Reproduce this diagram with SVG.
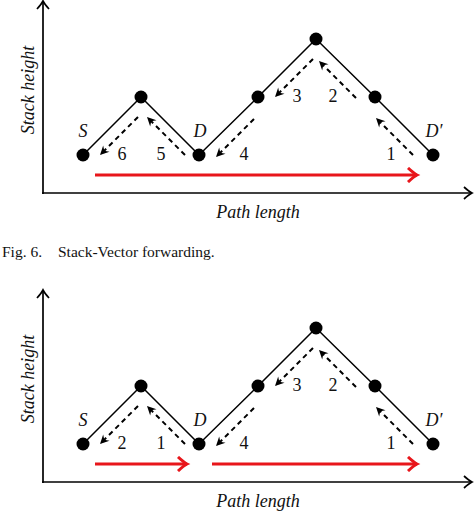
<svg xmlns="http://www.w3.org/2000/svg" width="474" height="513" viewBox="0 0 474 513">
<style>
.ax{stroke:#000;stroke-width:1.7;fill:none}
.seg{stroke:#000;stroke-width:1.5;fill:none}
.dash{stroke:#000;stroke-width:2;stroke-dasharray:5,4;fill:none}
.red{stroke:#e8161b;stroke-width:3;fill:none}
.dot{fill:#000}
.lbl{font-family:"Liberation Serif","Times New Roman",serif;font-style:italic;font-size:18px;fill:#111}
.num{font-family:"Liberation Serif","Times New Roman",serif;font-size:18px;fill:#111;text-anchor:middle}
.cap{font-family:"Liberation Serif","Times New Roman",serif;font-size:15.5px;fill:#111}
</style>
<defs>
<marker id="axarrow" markerUnits="userSpaceOnUse" markerWidth="14" markerHeight="14" viewBox="-10 -7 12 14" refX="0" refY="0" orient="auto">
<path d="M-8,-6 Q-3,-1.5 0,0 Q-3,1.5 -8,6" fill="none" stroke="#000" stroke-width="1.7"/>
</marker>
<marker id="redarrow" markerUnits="userSpaceOnUse" markerWidth="16" markerHeight="16" viewBox="-11 -8 13 16" refX="0" refY="0" orient="auto">
<path d="M-9,-7 Q-3,-1.5 0,0 Q-3,1.5 -9,7" fill="none" stroke="#e8161b" stroke-width="3"/>
</marker>
<marker id="dasharrow" markerUnits="userSpaceOnUse" markerWidth="12" markerHeight="12" viewBox="-10 -6 11 12" refX="0" refY="0" orient="auto">
<path d="M0,0 L-9,-4.5 L-6,0 L-9,4.5 Z" fill="#000"/>
</marker>
</defs>

<!-- ===== Top figure ===== -->
<g id="axes-top">
<line class="ax" x1="43" y1="194" x2="43" y2="1" marker-end="url(#axarrow)"/>
<line class="ax" x1="42" y1="193" x2="472" y2="193" marker-end="url(#axarrow)"/>
<text class="lbl" x="258" y="218" text-anchor="middle">Path length</text>
<text class="lbl" transform="translate(34,90) rotate(-90)" text-anchor="middle">Stack height</text>
</g>

<g id="connectors-top">
<polyline class="seg" points="83,155 141,97 199,155 258,97 316,39 375,97 433,155"/>
<line class="dash" x1="138" y1="117" x2="100" y2="155" marker-end="url(#dasharrow)"/>
<line class="dash" x1="185" y1="155" x2="147" y2="117" marker-end="url(#dasharrow)"/>
<line class="dash" x1="254" y1="119" x2="216" y2="157" marker-end="url(#dasharrow)"/>
<line class="dash" x1="313" y1="59" x2="275" y2="97" marker-end="url(#dasharrow)"/>
<line class="dash" x1="356" y1="98" x2="319" y2="61" marker-end="url(#dasharrow)"/>
<line class="dash" x1="413" y1="155" x2="376" y2="118" marker-end="url(#dasharrow)"/>
<line class="red" x1="95" y1="175" x2="417" y2="175" marker-end="url(#redarrow)"/>
<text class="num" x="122" y="160">6</text>
<text class="num" x="161" y="160">5</text>
<text class="num" x="244" y="160">4</text>
<text class="num" x="297" y="102">3</text>
<text class="num" x="333" y="102">2</text>
<text class="num" x="391" y="160">1</text>
</g>

<g id="t-S"><circle class="dot" cx="83" cy="155" r="6.5"/><text class="lbl" x="83" y="137" text-anchor="middle">S</text></g>
<g id="t-P1"><circle class="dot" cx="141" cy="97" r="6.5"/></g>
<g id="t-D"><circle class="dot" cx="199" cy="155" r="6.5"/><text class="lbl" x="200" y="137" text-anchor="middle">D</text></g>
<g id="t-N1"><circle class="dot" cx="258" cy="97" r="6.5"/></g>
<g id="t-T"><circle class="dot" cx="316" cy="39" r="6.5"/></g>
<g id="t-N2"><circle class="dot" cx="375" cy="97" r="6.5"/></g>
<g id="t-Dp"><circle class="dot" cx="433" cy="155" r="6.5"/><text class="lbl" x="434" y="137" text-anchor="middle">D′</text></g>

<g id="caption">
<text class="cap" x="2" y="257">Fig. 6.</text>
<text class="cap" x="58" y="257">Stack-Vector forwarding.</text>
</g>

<!-- ===== Bottom figure ===== -->
<g id="axes-bottom">
<line class="ax" x1="43" y1="483" x2="43" y2="290" marker-end="url(#axarrow)"/>
<line class="ax" x1="42" y1="482" x2="472" y2="482" marker-end="url(#axarrow)"/>
<text class="lbl" x="258" y="507" text-anchor="middle">Path length</text>
<text class="lbl" transform="translate(34,379) rotate(-90)" text-anchor="middle">Stack height</text>
</g>

<g id="connectors-bottom">
<polyline class="seg" points="83,444 141,386 199,444 258,386 316,328 375,386 433,444"/>
<line class="dash" x1="138" y1="406" x2="100" y2="444" marker-end="url(#dasharrow)"/>
<line class="dash" x1="185" y1="444" x2="147" y2="406" marker-end="url(#dasharrow)"/>
<line class="dash" x1="254" y1="408" x2="216" y2="446" marker-end="url(#dasharrow)"/>
<line class="dash" x1="313" y1="348" x2="275" y2="386" marker-end="url(#dasharrow)"/>
<line class="dash" x1="356" y1="387" x2="319" y2="350" marker-end="url(#dasharrow)"/>
<line class="dash" x1="413" y1="444" x2="376" y2="407" marker-end="url(#dasharrow)"/>
<line class="red" x1="95" y1="464" x2="187" y2="464" marker-end="url(#redarrow)"/>
<line class="red" x1="212" y1="464" x2="417" y2="464" marker-end="url(#redarrow)"/>
<text class="num" x="122" y="449">2</text>
<text class="num" x="161" y="449">1</text>
<text class="num" x="244" y="449">4</text>
<text class="num" x="297" y="391">3</text>
<text class="num" x="333" y="391">2</text>
<text class="num" x="391" y="449">1</text>
</g>

<g id="b-S"><circle class="dot" cx="83" cy="444" r="6.5"/><text class="lbl" x="83" y="426" text-anchor="middle">S</text></g>
<g id="b-P1"><circle class="dot" cx="141" cy="386" r="6.5"/></g>
<g id="b-D"><circle class="dot" cx="199" cy="444" r="6.5"/><text class="lbl" x="200" y="426" text-anchor="middle">D</text></g>
<g id="b-N1"><circle class="dot" cx="258" cy="386" r="6.5"/></g>
<g id="b-T"><circle class="dot" cx="316" cy="328" r="6.5"/></g>
<g id="b-N2"><circle class="dot" cx="375" cy="386" r="6.5"/></g>
<g id="b-Dp"><circle class="dot" cx="433" cy="444" r="6.5"/><text class="lbl" x="434" y="426" text-anchor="middle">D′</text></g>
</svg>
